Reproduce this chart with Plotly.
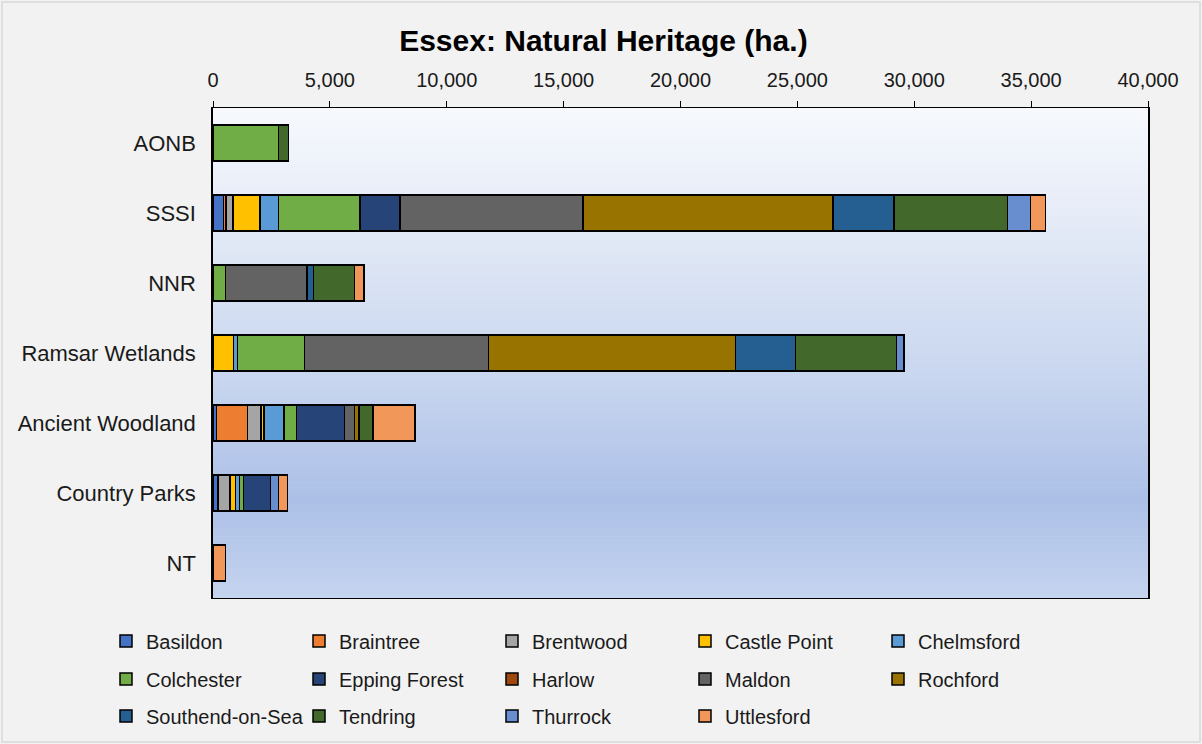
import plotly.graph_objects as go

categories = ["AONB", "SSSI", "NNR", "Ramsar Wetlands", "Ancient Woodland", "Country Parks", "NT"]

districts = ["Basildon", "Braintree", "Brentwood", "Castle Point", "Chelmsford",
             "Colchester", "Epping Forest", "Harlow", "Maldon", "Rochford",
             "Southend-on-Sea", "Tendring", "Thurrock", "Uttlesford"]

# hectares per category, in order of `categories`
basildon     = [0,    450,   0,    0,     150,  210,  0]
braintree    = [0,    110,   0,    0,     1320, 0,    0]
brentwood    = [0,    300,   0,    0,     580,  520,  0]
castle_point = [0,    1140,  0,    880,   130,  230,  0]
chelmsford   = [0,    810,   0,    170,   860,  170,  0]
colchester   = [2810, 3480,  530,  2870,  540,  180,  0]
epping       = [0,    1710,  0,    0,     2040, 1150, 0]
harlow       = [0,    0,     0,    0,     0,    0,    0]
maldon       = [0,    7830,  3500, 7870,  440,  0,    0]
rochford     = [0,    10690, 0,    10570, 180,  0,    0]
southend     = [0,    2610,  270,  2570,  0,    0,    0]
tendring     = [430,  4860,  1760, 4320,  610,  0,    0]
thurrock     = [0,    985,   0,    310,   0,    340,  0]
uttlesford   = [0,    640,   400,  0,     1800, 390,  540]

series = [basildon, braintree, brentwood, castle_point, chelmsford, colchester,
          epping, harlow, maldon, rochford, southend, tendring, thurrock, uttlesford]

colors = ["#4472C4", "#ED7D31", "#A5A5A5", "#FFC000", "#5B9BD5", "#70AD47",
          "#264478", "#9E480E", "#636363", "#997300", "#255E91", "#43682B",
          "#698ED0", "#F1975A"]

x_ticks = [0, 5000, 10000, 15000, 20000, 25000, 30000, 35000, 40000]

FONT = "Liberation Sans, Arial, sans-serif"
TXT = "#1a1a1a"

W, H = 1202, 744
L, R, T, B = 213, 54, 108, 146
pw, ph = W - L - R, H - T - B

fig = go.Figure()
legend_layouts = {}
for i, (name, vals, col) in enumerate(zip(districts, series, colors)):
    lid = "legend" if i == 0 else f"legend{i + 1}"
    fig.add_trace(go.Bar(
        y=categories, x=vals, name=name, orientation="h",
        marker=dict(color=col, line=dict(color="black", width=1.5)),
        legend=lid, showlegend=True,
    ))
    colx, rowy = i % 5, i // 5
    left_px = 106 + 193 * colx
    cy = [641, 679, 716][rowy]
    legend_layouts[lid] = dict(
        xref="paper", yref="paper", x=(left_px - L) / pw, y=(T + ph - cy) / ph,
        xanchor="left", yanchor="middle", orientation="v",
        font=dict(family=FONT, size=20, color=TXT), bgcolor="rgba(0,0,0,0)",
        borderwidth=0,
    )

# plot-area gradient background
stops = [(0.0, (247, 249, 253)), (0.26, (226, 233, 246)), (0.55, (200, 214, 239)),
         (0.80, (172, 192, 231)), (1.0, (196, 211, 238))]

def grad(t):
    for (t0, c0), (t1, c1) in zip(stops[:-1], stops[1:]):
        if t0 <= t <= t1:
            f = (t - t0) / (t1 - t0)
            return tuple(round(a + (b - a) * f) for a, b in zip(c0, c1))
    return stops[-1][1]

shapes = []
N = 120
for i in range(N):
    t = (i + 0.5) / N
    r, g, b = grad(t)
    shapes.append(dict(type="rect", xref="x domain", yref="y domain",
                       x0=0, x1=1, y0=1 - (i + 1) / N, y1=1 - i / N + 0.001,
                       fillcolor=f"rgb({r},{g},{b})", line=dict(width=0), layer="below"))

# outer chart border
shapes.append(dict(type="rect", xref="paper", yref="paper",
                   x0=(2 - L) / pw, x1=(W - 2 - L) / pw,
                   y0=(T + ph - (H - 2)) / ph, y1=(T + ph - 2) / ph,
                   line=dict(color="#D9D9D9", width=1.5), fillcolor="rgba(0,0,0,0)", layer="below"))

fig.update_layout(
    width=W, height=H,
    showlegend=True,
    margin=dict(l=L, r=R, t=T, b=B, autoexpand=False),
    paper_bgcolor="#F2F2F2",
    plot_bgcolor="#DCE4F3",
    barmode="stack",
    bargap=0.48,
    title=dict(text="<b>Essex: Natural Heritage (ha.)</b>", x=0.502, xref="container",
               xanchor="center", y=1 - 40 / H, yanchor="middle",
               font=dict(family=FONT, size=30, color="black")),
    font=dict(family=FONT, color=TXT),
    xaxis=dict(side="top", range=[0, 40000], tickvals=x_ticks, tickformat=",",
               ticks="outside", ticklen=6, tickcolor="black", tickwidth=1.3,
               showline=True, linecolor="black", linewidth=1.3, mirror=True,
               showgrid=False, zeroline=False, ticklabelstandoff=6,
               tickfont=dict(family=FONT, size=20, color=TXT), fixedrange=True),
    yaxis=dict(categoryorder="array", categoryarray=categories, autorange="reversed",
               showline=True, linecolor="black", linewidth=1.5, mirror=True,
               showgrid=False, zeroline=False, ticks="", ticklabelstandoff=11,
               tickfont=dict(family=FONT, size=22, color=TXT), fixedrange=True),
    shapes=shapes,
    **legend_layouts,
)

fig.write_html("out.html", config={"displayModeBar": False},
               post_script="document.body.style.margin='0';")
